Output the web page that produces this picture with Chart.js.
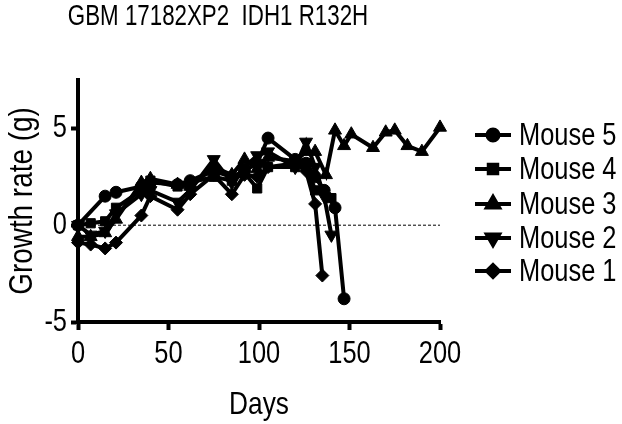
<!DOCTYPE html>
<html>
<head>
<meta charset="utf-8">
<script src="https://cdn.jsdelivr.net/npm/chart.js@4.4.1/dist/chart.umd.min.js"></script>
<style>
html,body{margin:0;padding:0;background:#fff;}
#wrap{width:622px;height:424px;}
</style>
</head>
<body>
<div id="wrap"><canvas id="c" width="622" height="424"></canvas></div>
<script>
const FONT = "'Liberation Sans', Arial, sans-serif";
let NARROW = 0.82; // horizontal condensing to mimic a narrow sans face

const titleText = "GBM 17182XP2  IDH1 R132H";
const xTitle = "Days";
const yTitle = "Growth rate (g)";
const xTicks = [0, 50, 100, 150, 200];
const yTicks = [-5, 0, 5];

const seriesNames = ["Mouse 5", "Mouse 4", "Mouse 3", "Mouse 2", "Mouse 1"];

const days5 = [0, 15, 21, 35, 40, 55, 62, 75, 85, 92, 99, 105, 120, 126, 131, 136, 142, 147];
const mouse5 = [0, 1.5, 1.7, 2.0, 2.2, 2.1, 2.3, 2.8, 2.5, 2.8, 3.2, 4.5, 3.4, 3.2, 2.5, 1.8, 0.9, -3.8];

const days4 = [0, 7, 15, 21, 35, 40, 55, 62, 75, 85, 92, 99, 105, 120, 126, 131, 140];
const mouse4 = [0, 0.1, 0.2, 0.9, 1.8, 2.3, 2.0, 2.2, 2.5, 2.3, 2.7, 1.9, 3.0, 3.0, 3.2, 1.8, 1.4];

const days3 = [0, 7, 15, 21, 35, 40, 55, 62, 75, 85, 92, 99, 105, 120, 126, 131, 137, 142, 147, 151, 163, 170, 175, 182, 190, 200];
const mouse3 = [-0.6, -0.6, -0.4, 0.3, 2.2, 2.4, 2.1, 2.0, 3.0, 2.6, 3.4, 2.9, 3.5, 3.3, 3.8, 3.8, 2.6, 4.9, 4.1, 4.7, 4.0, 4.8, 4.9, 4.1, 3.8, 5.05];

const days2 = [0, 7, 15, 21, 35, 40, 55, 62, 75, 85, 92, 99, 105, 120, 126, 131, 136, 140];
const mouse2 = [0, -0.5, -0.3, 0.6, 1.6, 1.8, 1.2, 1.8, 3.4, 2.2, 3.0, 3.6, 3.8, 3.0, 4.3, 3.0, 1.5, -0.5];

const days1 = [0, 7, 15, 21, 35, 40, 55, 62, 75, 85, 92, 99, 105, 120, 126, 131, 135];
const mouse1 = [-0.9, -1.0, -1.2, -0.9, 0.5, 1.5, 0.8, 1.6, 2.6, 1.6, 2.6, 2.5, 3.0, 3.2, 2.8, 1.1, -2.6];

const zeroLineX = [0, 200];
const zeroLineY = [0, 0];

const pts = (xs, ys) => xs.map((x, i) => ({x: x, y: ys[i]}));

const markers = [
  {style: 'circle', rot: 0, r: 6},
  {style: 'rect', rot: 0, r: 6.5},
  {style: 'triangle', rot: 0, r: 7.5},
  {style: 'triangle', rot: 180, r: 7.5},
  {style: 'rectRot', rot: 0, r: 6.5}
];
const allDays = [days5, days4, days3, days2, days1];
const allVals = [mouse5, mouse4, mouse3, mouse2, mouse1];

const datasets = seriesNames.map((name, i) => ({
  label: name,
  data: pts(allDays[i], allVals[i]),
  borderColor: '#000',
  backgroundColor: '#000',
  borderWidth: 4,
  pointStyle: markers[i].style,
  pointRotation: markers[i].rot,
  pointRadius: markers[i].r,
  pointBorderWidth: 1,
  tension: 0,
  clip: false,
  order: 1
}));
datasets.push({
  label: '__zero',
  data: pts(zeroLineX, zeroLineY),
  borderColor: '#000',
  borderWidth: 1,
  borderDash: [3, 2],
  pointRadius: 0,
  order: 10
});

const canvas = document.getElementById('c');
const c2d = canvas.getContext('2d');
const origFill = c2d.fillText.bind(c2d);
c2d.fillText = function (t, x, y) {
  this.save();
  this.translate(x, y);
  this.scale(NARROW, 1);
  origFill(t, 0, 0);
  this.restore();
};

const legendPlugin = {
  id: 'customLegend',
  afterDraw(chart) {
    const ctx = chart.ctx;
    ctx.save();
    ctx.fillStyle = '#000';
    ctx.font = "29px " + FONT;
    ctx.textAlign = 'center';
    ctx.textBaseline = 'middle';
    const keep = NARROW;
    NARROW = 0.77;
    ctx.fillText(titleText, 218, 17);
    NARROW = keep;
    const rows = [135, 169, 204, 238, 271];
    chart.data.datasets.forEach((ds, i) => {
      if (ds.label === '__zero') return;
      const y = rows[i];
      ctx.strokeStyle = '#000';
      ctx.lineWidth = 4;
      ctx.beginPath();
      ctx.moveTo(475, y);
      ctx.lineTo(511, y);
      ctx.stroke();
      ctx.fillStyle = '#000';
      Chart.helpers.drawPoint(ctx, {
        pointStyle: ds.pointStyle,
        rotation: ds.pointRotation,
        radius: ds.pointRadius - 0.5,
        borderWidth: 1
      }, 493, y);
      ctx.fillStyle = '#000';
      ctx.font = "31px " + FONT;
      ctx.textAlign = 'left';
      ctx.textBaseline = 'middle';
      ctx.fillText(ds.label, 519, y + 1);
    });
    ctx.restore();
  }
};

new Chart(canvas, {
  type: 'line',
  data: {datasets: datasets},
  options: {
    responsive: false,
    devicePixelRatio: 1,
    animation: false,
    layout: {padding: {top: 80, right: 182, left: 0, bottom: 0}},
    plugins: {legend: {display: false}, title: {display: false}, tooltip: {enabled: false}},
    scales: {
      x: {
        type: 'linear',
        min: 0, max: 200,
        afterFit: s => { s.height = 102; },
        afterBuildTicks: s => { s.ticks = xTicks.map(v => ({value: v})); },
        grid: {display: true, drawOnChartArea: false, drawTicks: true, tickLength: 8, tickWidth: 4, tickColor: '#000'},
        border: {display: true, width: 4, color: '#000'},
        ticks: {color: '#000', font: {family: FONT, size: 31}, padding: 6, maxRotation: 0, autoSkip: false},
        title: {display: true, text: xTitle, color: '#000', font: {family: FONT, size: 32}, padding: {top: 0, bottom: 0}}
      },
      y: {
        type: 'linear',
        min: -5, max: 7.5,
        afterFit: s => { s.width = 78; },
        afterBuildTicks: s => { s.ticks = yTicks.map(v => ({value: v})); },
        grid: {display: true, drawOnChartArea: false, drawTicks: true, tickLength: 7, tickWidth: 4, tickColor: '#000'},
        border: {display: true, width: 4, color: '#000'},
        ticks: {color: '#000', font: {family: FONT, size: 31}, padding: 4, autoSkip: false},
        title: {display: true, text: yTitle, color: '#000', font: {family: FONT, size: 34}, padding: {top: 2, bottom: 0}}
      }
    }
  },
  plugins: [legendPlugin]
});
</script>
</body>
</html>
